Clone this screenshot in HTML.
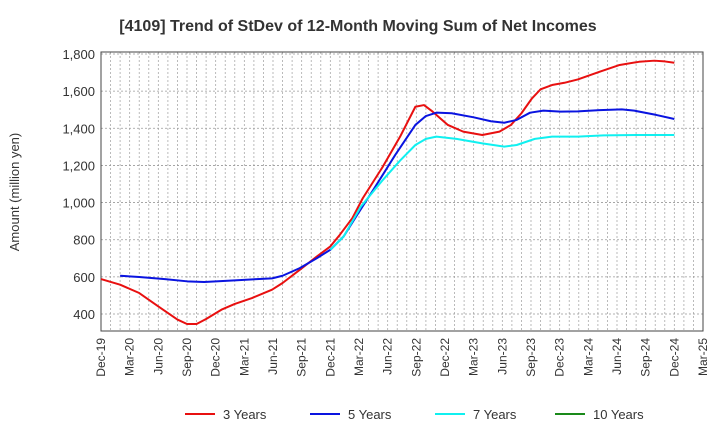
<!DOCTYPE html>
<html><head><meta charset="utf-8"><style>
body{margin:0;background:#fff;font-family:"Liberation Sans",sans-serif;}
</style></head><body>
<svg id="chart" width="720" height="440" xmlns="http://www.w3.org/2000/svg">
<text x="358" y="31" text-anchor="middle" font-size="16" font-weight="bold" fill="#333">[4109]  Trend of StDev of 12-Month Moving Sum of Net Incomes</text>
<text transform="translate(19,192) rotate(-90)" text-anchor="middle" font-size="13" fill="#333">Amount (million yen)</text>
<g id="grid"></g><g id="axes"></g><g id="series"></g><g id="legend"></g>
</svg>
<script>
const xTickLabels=["Dec-19","Mar-20","Jun-20","Sep-20","Dec-20","Mar-21","Jun-21","Sep-21","Dec-21","Mar-22","Jun-22","Sep-22","Dec-22","Mar-23","Jun-23","Sep-23","Dec-23","Mar-24","Jun-24","Sep-24","Dec-24","Mar-25"];
const yTicks=[400,600,800,1000,1200,1400,1600,1800];
const seriesNames=["3 Years","5 Years","7 Years","10 Years"];
const seriesColors=["#e81010","#0a14e0","#10f0f0","#1a8a1a"];
const m3=[0,2,4,6,8,9,10,11,12.6,14,15.8,17.9,19,20.8,22.6,24,25,26.3,27.4,29.5,31.3,32.9,33.8,34.7,36.3,37.9,39.9,41.7,42.9,44,45.1,46,47.2,48.5,49.9,52.2,54.2,56.3,57.9,59,60];
const v3=[588,558,513,441,370,346,346,373,423,454,486,531,567,638,710,764,827,916,1024,1194,1355,1516,1525,1490,1418,1382,1364,1382,1418,1481,1561,1610,1633,1645,1663,1705,1740,1758,1764,1760,1753];
const m5=[2,4,6.7,9,10.8,14,16.3,17.9,19,20.8,22.6,24,25.4,26.7,28.5,30.8,32.9,34,35.1,36.7,39,40.8,42.2,43.5,44.9,46.3,48.1,49.9,52.2,54.5,55.8,58.1,60];
const v5=[606,599,588,576,572,581,588,592,606,647,701,746,818,925,1069,1257,1418,1466,1484,1481,1459,1438,1430,1445,1484,1495,1490,1491,1498,1502,1495,1472,1450];
const m7=[24,25.4,27.2,29.5,31.3,32.9,34,35.1,37.2,39.9,42.2,43.5,45.4,47.2,49.9,52.6,56.3,60];
const v7=[746,818,979,1122,1226,1310,1343,1355,1343,1319,1301,1310,1343,1355,1355,1362,1364,1364];
const m10=[];const v10=[];
const L=101,R=703,T=52,B=331;
const xs=m=>L+(R-L)*m/63;
const ys=v=>54+(1800-v)*(314-54)/1400;
const NS="http://www.w3.org/2000/svg";
function mk(tag,attrs,parent){const e=document.createElementNS(NS,tag);for(const k in attrs)e.setAttribute(k,attrs[k]);parent.appendChild(e);return e;}
const grid=document.getElementById('grid'),axes=document.getElementById('axes'),ser=document.getElementById('series'),leg=document.getElementById('legend');
for(let m=1;m<63;m++){const l=mk('line',{x1:xs(m),x2:xs(m),y1:T,y2:B,stroke:'#aaa','stroke-dasharray':'2,2','stroke-width':0.8},grid);

}
yTicks.forEach(v=>{const l=mk('line',{x1:L,x2:R,y1:ys(v),y2:ys(v),stroke:'#999','stroke-dasharray':'2,2','stroke-width':0.8},grid);


const t=mk('text',{x:L-6,y:ys(v)+5,'text-anchor':'end','font-size':13,fill:'#333'},axes);t.textContent=v.toLocaleString('en-US');

});
const fr=mk('rect',{x:L,y:T,width:R-L,height:B-T,fill:'none',stroke:'#444','stroke-width':1},axes);


xTickLabels.forEach((s,i)=>{const x=xs(i*3);const t=mk('text',{transform:`translate(${x+4},${B+7}) rotate(-90)`,'text-anchor':'end','font-size':12,fill:'#333'},axes);t.textContent=s;

});
[[m3,v3],[m5,v5],[m7,v7],[m10,v10]].forEach(([ms,vs],i)=>{if(!ms.length)return;
const p=mk('polyline',{points:ms.map((m,j)=>xs(m)+','+ys(vs[j])).join(' '),fill:'none',stroke:seriesColors[i],'stroke-width':2,'stroke-linejoin':'round'},ser);

});
const lx=[185,310,435,555];
seriesNames.forEach((n,i)=>{const g=mk('g',{},leg);


mk('line',{x1:lx[i],x2:lx[i]+30,y1:414,y2:414,stroke:seriesColors[i],'stroke-width':2},g);
const t=mk('text',{x:lx[i]+38,y:419,'font-size':13,fill:'#333'},g);t.textContent=n;});
</script>
</body></html>
